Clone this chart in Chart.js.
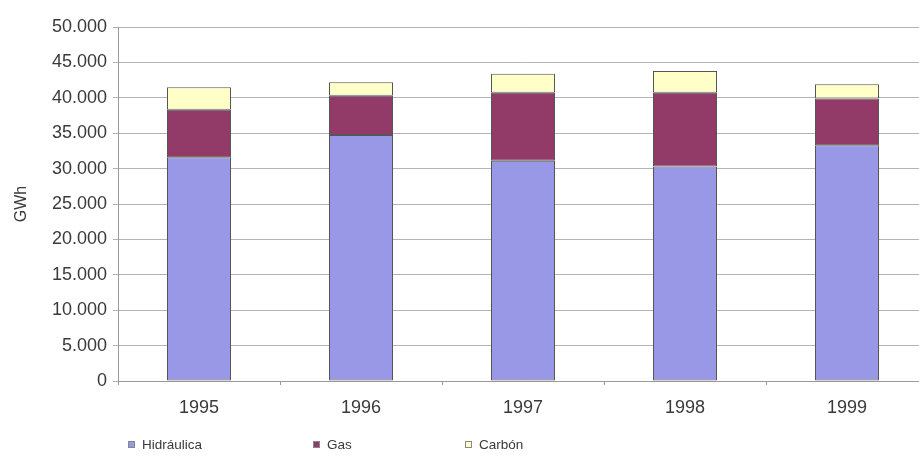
<!DOCTYPE html>
<html>
<head>
<meta charset="utf-8">
<script src="https://cdn.jsdelivr.net/npm/chart.js@4/dist/chart.umd.min.js"></script>
<style>
  html, body { margin: 0; padding: 0; background: #fff; }
  #wrap { position: relative; width: 919px; height: 469px; overflow: hidden; }
  #chart { position: absolute; left: 0; top: 0; }
  .leg { position: absolute; top: 437px; font: 13.5px "Liberation Sans", Arial, sans-serif; color: #3a3a3a; white-space: nowrap; }
  .leg i { display: inline-block; width: 7px; height: 7px; margin-right: 7px; vertical-align: 1px; border: 1px solid #888; box-sizing: border-box; }
</style>
</head>
<body>
<div id="wrap">
  <canvas id="chart" width="930" height="469"></canvas>
</div>
<script>
// years on the x axis
const years = ["1995", "1996", "1997", "1998", "1999"];

// generation by source, GWh
const hidraulica = [31600, 34750, 31100, 30300, 33300];
const gas = [6700, 5550, 9600, 10400, 6600];
const carbon = [3200, 1900, 2700, 3100, 2000];

const seriesNames = ["Hidráulica", "Gas", "Carbón"];
const seriesColors = ["#9898e6", "#923a68", "#ffffc8"];

// y axis range
const yMax = 50000;
const yStep = 5000;

const font = { family: "'Liberation Sans', Arial, sans-serif", size: 18 };

function fmt(v) {
  return String(v).replace(/\B(?=(\d{3})+(?!\d))/g, ".");
}

new Chart(document.getElementById("chart"), {
  type: "bar",
  data: {
    labels: years,
    datasets: [hidraulica, gas, carbon].map((d, i) => ({
      label: seriesNames[i],
      data: d,
      backgroundColor: seriesColors[i],
      borderColor: "#555",
      borderWidth: 1,
      borderSkipped: false,
      barPercentage: 0.395,
      categoryPercentage: 1,
    })),
  },
  options: {
    responsive: false,
    animation: false,
    layout: { padding: { top: 27, right: 2, bottom: 0, left: 0 } },
    plugins: { legend: { display: false }, tooltip: { enabled: false } },
    scales: {
      x: {
        stacked: true,
        grid: { offset: true, drawOnChartArea: false, drawTicks: true, tickLength: 4, color: "#999" },
        border: { color: "#999" },
        ticks: { font: font, color: "#3a3a3a", padding: 12 },
        afterFit: (s) => { s.height = 88; },
      },
      y: {
        stacked: true,
        min: 0,
        max: yMax,
        grid: { color: "#b4b4b4", drawTicks: true, tickLength: 5 },
        border: { color: "#999" },
        ticks: { stepSize: yStep, font: font, color: "#3a3a3a", padding: 6, callback: (v) => fmt(v) },
        title: { display: true, text: "GWh", font: { family: font.family, size: 16 }, color: "#3a3a3a", padding: { top: 12, bottom: 0 } },
        afterFit: (s) => { s.width = 118; },
      },
    },
  },
});

// legend row under the chart
const legendX = [128, 313, 465];
const wrap = document.getElementById("wrap");
seriesNames.forEach((name, i) => {
  const el = document.createElement("div");
  el.className = "leg";
  el.style.left = legendX[i] + "px";
  const sw = document.createElement("i");
  sw.style.background = seriesColors[i];
  el.appendChild(sw);
  el.appendChild(document.createTextNode(name));
  wrap.appendChild(el);
});
</script>
</body>
</html>
